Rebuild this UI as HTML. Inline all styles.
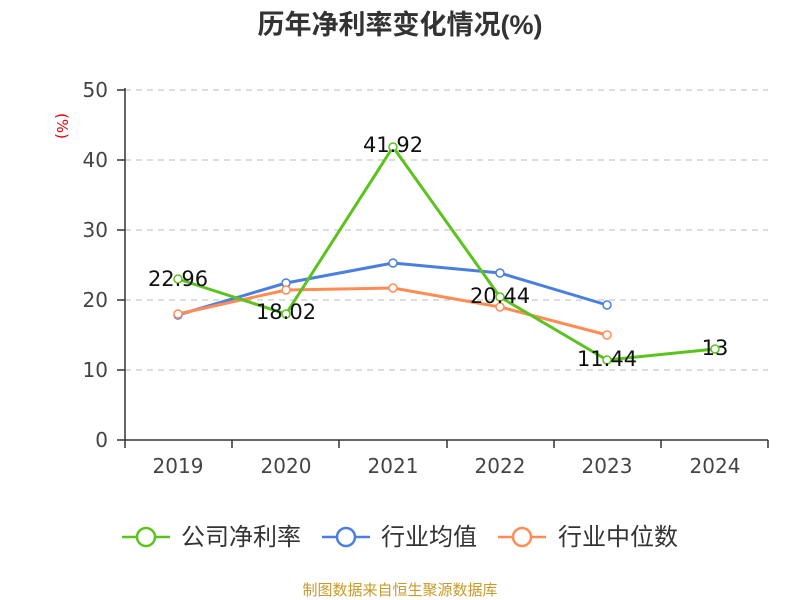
<!DOCTYPE html>
<html><head><meta charset="utf-8"><style>body{margin:0;background:#fff}svg{display:block}</style></head><body>
<svg width="800" height="600" xmlns="http://www.w3.org/2000/svg" font-family="DejaVu Sans, Noto Sans CJK SC, sans-serif">
<rect width="800" height="600" fill="#fff"/>
<text x="400" y="34" text-anchor="middle" font-size="27" font-weight="bold" fill="#333" font-family="Liberation Sans, Noto Sans CJK SC, sans-serif">历年净利率变化情况(%)</text>
<text x="57" y="126" font-size="15" fill="#e00" transform="rotate(90 57 126)" text-anchor="middle">(%)</text>
<g stroke="#bbb" stroke-dasharray="6,5" stroke-width="1">
<line x1="125" x2="768" y1="90" y2="90"/><line x1="125" x2="768" y1="160" y2="160"/><line x1="125" x2="768" y1="230" y2="230"/><line x1="125" x2="768" y1="300" y2="300"/><line x1="125" x2="768" y1="370" y2="370"/></g>
<g stroke="#333" stroke-width="1.5"><line x1="125" y1="88" x2="125" y2="440"/><line x1="125" y1="440" x2="768" y2="440"/>
<line x1="117" x2="125" y1="90" y2="90"/><line x1="117" x2="125" y1="160" y2="160"/><line x1="117" x2="125" y1="230" y2="230"/><line x1="117" x2="125" y1="300" y2="300"/><line x1="117" x2="125" y1="370" y2="370"/><line x1="117" x2="125" y1="440" y2="440"/>
<line x1="125" x2="125" y1="440" y2="448"/><line x1="232" x2="232" y1="440" y2="448"/><line x1="339" x2="339" y1="440" y2="448"/><line x1="447" x2="447" y1="440" y2="448"/><line x1="554" x2="554" y1="440" y2="448"/><line x1="661" x2="661" y1="440" y2="448"/><line x1="768" x2="768" y1="440" y2="448"/></g>
<g font-size="20" fill="#444" text-anchor="end"><text x="108" y="97">50</text><text x="108" y="167">40</text><text x="108" y="237">30</text><text x="108" y="307">20</text><text x="108" y="377">10</text><text x="108" y="447">0</text></g>
<g font-size="20" fill="#444" text-anchor="middle"><text x="178" y="473">2019</text><text x="286" y="473">2020</text><text x="393" y="473">2021</text><text x="500" y="473">2022</text><text x="607" y="473">2023</text><text x="715" y="473">2024</text></g>
<g fill="none" stroke-width="3" stroke-linejoin="round">
<polyline stroke="#4a7fe0" points="178,315 286,283 393,263 500,273 607,305"/>
<polyline stroke="#ff8c55" points="178,314 286,290 393,288 500,307 607,335"/>
<polyline stroke="#5cc31e" points="178,279 286,314 393,147 500,297 607,360 715,349"/></g>
<g fill="#fff" stroke-width="1.5">
<g stroke="#4a7fe0"><circle cx="178" cy="315" r="4"/><circle cx="286" cy="283" r="4"/><circle cx="393" cy="263" r="4"/><circle cx="500" cy="273" r="4"/><circle cx="607" cy="305" r="4"/></g>
<g stroke="#ff8c55"><circle cx="178" cy="314" r="4"/><circle cx="286" cy="290" r="4"/><circle cx="393" cy="288" r="4"/><circle cx="500" cy="307" r="4"/><circle cx="607" cy="335" r="4"/></g>
<g stroke="#5cc31e"><circle cx="178" cy="279" r="4"/><circle cx="286" cy="314" r="4"/><circle cx="393" cy="147" r="4"/><circle cx="500" cy="297" r="4"/><circle cx="607" cy="360" r="4"/><circle cx="715" cy="349" r="4"/></g></g>
<g font-size="21" fill="#111" text-anchor="middle"><text x="178" y="286">22.96</text><text x="286" y="319">18.02</text><text x="393" y="152">41.92</text><text x="500" y="303">20.44</text><text x="607" y="366">11.44</text><text x="715" y="355">13</text></g>
<g stroke-width="2.5" fill="#fff">
<line x1="122" x2="170" y1="537" y2="537" stroke="#5cc31e"/><circle cx="146" cy="537" r="9" stroke="#5cc31e"/>
<line x1="322" x2="370" y1="537" y2="537" stroke="#4a7fe0"/><circle cx="346" cy="537" r="9" stroke="#4a7fe0"/>
<line x1="498" x2="546" y1="537" y2="537" stroke="#ff8c55"/><circle cx="522" cy="537" r="9" stroke="#ff8c55"/></g>
<g font-size="24" fill="#333" font-family="Liberation Sans, Noto Sans CJK SC, sans-serif"><text x="181" y="545">公司净利率</text><text x="381" y="545">行业均值</text><text x="558" y="545">行业中位数</text></g>
<text x="400" y="595" text-anchor="middle" font-size="15" fill="#c89a2a" font-family="Liberation Sans, Noto Sans CJK SC, sans-serif">制图数据来自恒生聚源数据库</text>
</svg></body></html>
